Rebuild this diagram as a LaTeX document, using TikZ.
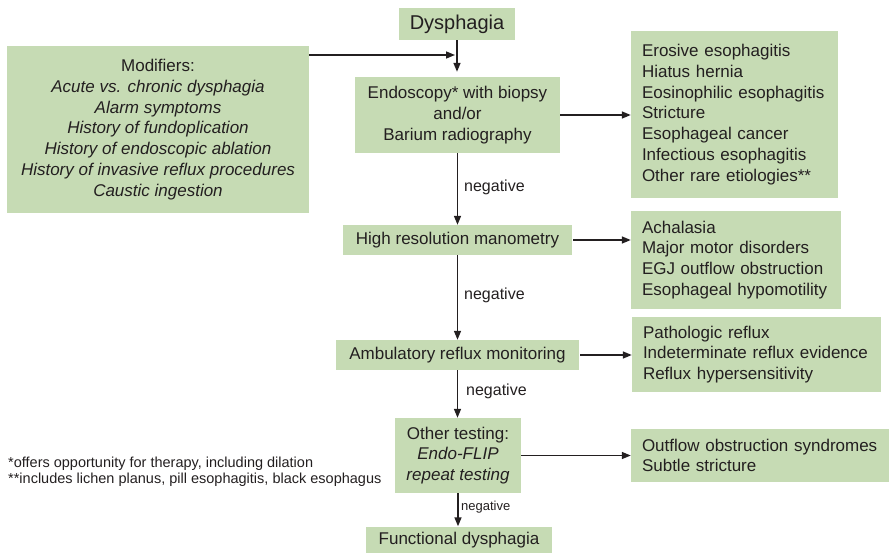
\documentclass[tikz,border=0pt]{standalone}
\usepackage{fontspec}
\setmainfont{Liberation Sans}
\usetikzlibrary{arrows.meta,calc}
\definecolor{boxgreen}{RGB}{198,219,180}
\definecolor{txt}{RGB}{35,31,32}
\begin{document}
\begin{tikzpicture}[x=1pt,y=-1pt,
  box/.style={fill=boxgreen, text=txt, inner sep=0pt, font=\fontsize{17}{20.8}\selectfont},
  cbox/.style={box, align=center},
  lbox/.style={box, align=left, inner xsep=11pt, text width=#1},
  arr/.style={-{Triangle[length=9pt,width=7pt]}, line width=1.5pt, draw=txt},
  neg/.style={anchor=west, inner sep=0pt, text=txt, font=\fontsize{16}{19}\selectfont}]
\useasboundingbox (0,0) rectangle (889,552);

\node[cbox, minimum width=116pt, minimum height=32pt, font=\fontsize{20}{24}\selectfont] (dys) at (457,24) {Dysphagia};
\node[cbox, minimum width=302pt, minimum height=167pt] (mod) at (158,129.5) {Modifiers:\\
  \textit{Acute vs. chronic dysphagia}\\
  \textit{Alarm symptoms}\\
  \textit{History of fundoplication}\\
  \textit{History of endoscopic ablation}\\
  \textit{History of invasive reflux procedures}\\
  \textit{Caustic ingestion}};
\node[cbox, minimum width=205pt, minimum height=76pt] (endo) at (457.5,115) {Endoscopy* with biopsy\\and/or\\Barium radiography};
\node[lbox=185pt, minimum height=167pt] (r1) at (734.5,114.5) {Erosive esophagitis\\Hiatus hernia\\Eosinophilic esophagitis\\Stricture\\Esophageal cancer\\Infectious esophagitis\\Other rare etiologies**};
\node[cbox, minimum width=229pt, minimum height=30pt] (hrm) at (457.5,240) {High resolution manometry};
\node[lbox=188pt, minimum height=98pt] (r2) at (736,260) {Achalasia\\Major motor disorders\\EGJ outflow obstruction\\Esophageal hypomotility};
\node[cbox, minimum width=243pt, minimum height=30pt] (amb) at (457.5,355) {Ambulatory reflux monitoring};
\node[lbox=227pt, minimum height=75pt] (r3) at (756.5,354.5) {Pathologic reflux\\Indeterminate reflux evidence\\Reflux hypersensitivity};
\node[cbox, minimum width=126pt, minimum height=75pt] (oth) at (458,455.5) {Other testing:\\\textit{Endo-FLIP}\\\textit{repeat testing}};
\node[lbox=236pt, minimum height=53pt] (r4) at (760,455.5) {Outflow obstruction syndromes\\Subtle stricture};
\node[cbox, minimum width=186pt, minimum height=27pt] (fun) at (459,540) {Functional dysphagia};

\node[anchor=base west, inner sep=0pt, align=left, text=txt, font=\fontsize{14.5}{16}\selectfont] (fn) at (8,483) {*offers opportunity for therapy, including dilation\\**includes lichen planus, pill esophagitis, black esophagus};

\coordinate (j) at (455,55);
\draw[arr] (mod.east |- j) -- (j);
\draw[arr, shorten >=5pt] (dys.south) -- (dys.south |- endo.north);
\draw[arr] (endo.east) -- (endo.east -| r1.west);
\draw[arr] (endo.south) -- (hrm.north);
\draw[arr, shorten <=1pt] (hrm.east) -- (hrm.east -| r2.west);
\draw[arr] (hrm.south) -- (amb.north);
\draw[arr, shorten <=1pt] (amb.east) -- (amb.east -| r3.west);
\draw[arr] (amb.south) -- (amb.south |- oth.north);
\draw[arr] (oth.east) -- (oth.east -| r4.west);
\draw[arr] (oth.south) -- (oth.south |- fun.north);

\node[neg] (n1) at (464,187) {negative};
\node[neg] (n2) at (464,295) {negative};
\node[neg] (n3) at (466,391) {negative};
\node[neg, font=\fontsize{13}{15}\selectfont] (n4) at (461,507) {negative};
\end{tikzpicture}
\end{document}
